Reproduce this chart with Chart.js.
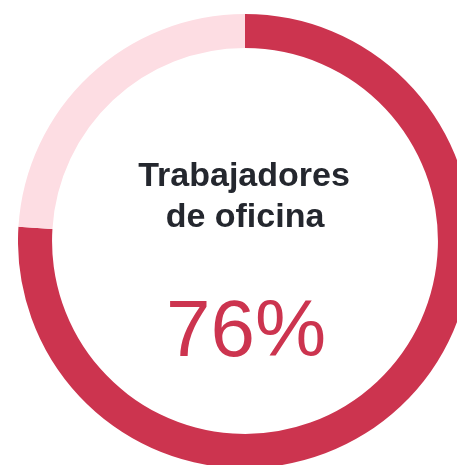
<!DOCTYPE html>
<html>
<head>
<meta charset="utf-8">
<script src="https://cdn.jsdelivr.net/npm/chart.js@4/dist/chart.umd.min.js"></script>
<style>
  html, body { margin: 0; padding: 0; background: #fff; overflow: hidden; }
  #wrap { position: absolute; left: 18px; top: 14px; width: 454px; height: 454px; }
</style>
</head>
<body>
<div id="wrap"><canvas id="myChart"></canvas></div>
<script>
'use strict';

// chart data
let segmentLabels = ['Trabajadores de oficina', 'Resto'];
let segmentValues = [76, 24];
let segmentColors = ['#cc344f', '#fddde3'];
let titleLines = ['Trabajadores', 'de oficina'];
let valueLabel = '76%';

// center text plugin
let centerText = {
  id: 'centerText',
  afterDraw(chart) {
    let meta = chart.getDatasetMeta(0);
    let cx = meta.data[0].x;
    let cy = meta.data[0].y;
    let ctx = chart.ctx;
    ctx.save();
    ctx.textAlign = 'center';
    ctx.textBaseline = 'alphabetic';
    ctx.fillStyle = '#24272e';
    ctx.font = 'bold 34px "Liberation Sans", Arial, sans-serif';
    ctx.fillText(titleLines[0], cx - 1, cy - 55);
    ctx.fillText(titleLines[1], cx, cy - 14);
    ctx.fillStyle = segmentColors[0];
    ctx.font = '80px "Liberation Sans", Arial, sans-serif';
    ctx.fillText(valueLabel, cx + 1, cy + 115);
    ctx.restore();
  }
};

const ctx = document.getElementById('myChart');
new Chart(ctx, {
  type: 'doughnut',
  data: {
    labels: segmentLabels,
    datasets: [{
      data: segmentValues,
      backgroundColor: segmentColors,
      borderWidth: 0
    }]
  },
  options: {
    responsive: true,
    maintainAspectRatio: false,
    animation: false,
    cutout: '85%',
    layout: { padding: 0 },
    plugins: {
      legend: { display: false },
      tooltip: { enabled: false }
    }
  },
  plugins: [centerText]
});
</script>
</body>
</html>
